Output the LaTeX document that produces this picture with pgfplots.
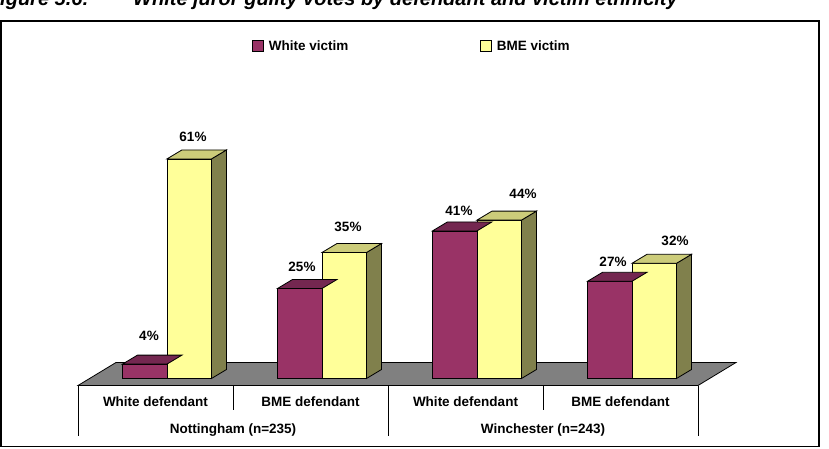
\documentclass[border=0pt]{standalone}
\usepackage{fontspec}
\setmainfont{Liberation Sans}
\usepackage{pgfplots}
\usepackage{pgfplotstable}
\pgfplotsset{compat=1.18}

\definecolor{plum}{HTML}{993366}
\definecolor{plumtop}{HTML}{742750}
\definecolor{cream}{HTML}{FFFF99}
\definecolor{creamtop}{HTML}{CCCC7A}
\definecolor{creamside}{HTML}{80804C}
\definecolor{floorgray}{HTML}{808080}

\newcommand{\chartfont}{\bfseries\fontsize{13.5}{16}\selectfont}

% Guilty-vote shares (%) per defendant group; wlx/wly and blx/bly place
% each value label (pt) relative to the top front edge of its bar group.
\pgfplotstableread{
pos white bme wlx wly  blx bly
0   4     61  -18 28.1 26  21.9
1   25    35  -20 21.5 26  25.5
2   41    44  -18 19.9 46  26.1
3   27    32  -19 19.3 43  22.3
}\votes

\begin{document}
\begin{tikzpicture}
\useasboundingbox (0,0) rectangle (829pt,448pt);
\clip (0,0) rectangle (829pt,448pt);

% caption line above the frame
\node[anchor=base west, inner sep=0pt, font=\bfseries\itshape\fontsize{20}{24}\selectfont]
  at (-12.2pt,442pt) {Figure 5.6:};
\node[anchor=base west, inner sep=0pt, font=\bfseries\itshape\fontsize{20}{24}\selectfont]
  at (133pt,442pt) {White juror guilty votes by defendant and victim ethnicity};

% chart frame
\draw[line width=1.5pt] (1pt,1.5pt) rectangle (819pt,427pt);

\begin{axis}[
  at={(12pt,69.5pt)}, anchor=south west,
  width=775pt, height=360pt, scale only axis,
  xmin=-1, xmax=4, ymin=0, ymax=100,
  clip=false,
  axis line style={draw=none},
  tick style={draw=none},
  ytick=\empty,
  xtick={0,1,2,3},
  xticklabels={White defendant,BME defendant,White defendant,BME defendant},
  xticklabel style={font=\chartfont, anchor=base, xshift=-11.5pt, yshift=-28.1pt},
  /pgf/number format/assume math mode=true,
  legend columns=2,
  legend style={draw=none, fill=none, at={(0.3097,0.9236)}, anchor=west,
    inner sep=0pt, font=\chartfont, nodes={inner sep=0pt},
    /tikz/every odd column/.append style={column sep=5pt},
    /tikz/every even column/.append style={column sep=132pt}},
]

% floor of the 3-D plot area
\fill[floorgray, draw=black, line width=0.8pt]
  ([shift={(-11.5pt,-7pt)}]axis cs:-0.5,0) --
  ([shift={(-11.5pt,-7pt)}]axis cs:3.5,0) --
  ([shift={(26.5pt,16pt)}]axis cs:3.5,0) --
  ([shift={(26.5pt,16pt)}]axis cs:-0.5,0) -- cycle;

% White victim: front faces
\addplot[ybar, bar width=44.5pt, bar shift=-22.25pt, fill=plum, draw=black, line width=0.8pt,
  legend image code/.code={\draw[fill=plum, draw=black, line width=0.6pt] (0pt,-5.5pt) rectangle (11pt,5.5pt);}]
  table[x=pos, y=white] {\votes};
\addlegendentry{White victim}

% White victim: top faces
\addplot[forget plot, only marks, scatter, mark=*, mark size=0pt,
  mark options={draw=none, fill=none},
  scatter/@pre marker code/.code={%
    \filldraw[fill=plumtop, draw=black, line width=0.8pt]
      (-44.5pt,0pt) -- (0pt,0pt) -- (15pt,9pt) -- (-29.5pt,9pt) -- cycle;},
  scatter/@post marker code/.code={}]
  table[x=pos, y=white] {\votes};

% BME victim: front faces
\addplot[ybar, bar width=44.5pt, bar shift=22.25pt, fill=cream, draw=black, line width=0.8pt,
  legend image code/.code={\draw[fill=cream, draw=black, line width=0.6pt] (0pt,-5.5pt) rectangle (11pt,5.5pt);}]
  table[x=pos, y=bme] {\votes};
\addlegendentry{BME victim}

% BME victim: top and side faces
\addplot[forget plot, only marks, scatter, mark=*, mark size=0pt,
  mark options={draw=none, fill=none},
  visualization depends on={\thisrow{bme} \as \barval},
  scatter/@pre marker code/.code={%
    \pgfmathsetmacro\sidelow{-3.6*\barval}%
    \pgfmathsetmacro\sidehigh{9-3.6*\barval}%
    \filldraw[fill=creamside, draw=black, line width=0.8pt]
      (44.5pt,0pt) -- (59.5pt,9pt) -- (59.5pt,\sidehigh pt) -- (44.5pt,\sidelow pt) -- cycle;
    \filldraw[fill=creamtop, draw=black, line width=0.8pt]
      (0pt,0pt) -- (44.5pt,0pt) -- (59.5pt,9pt) -- (15pt,9pt) -- cycle;},
  scatter/@post marker code/.code={}]
  table[x=pos, y=bme] {\votes};

% value labels
\addplot[forget plot, draw=none, point meta=y,
  visualization depends on={\thisrow{wlx} \as \lx},
  visualization depends on={\thisrow{wly} \as \ly},
  nodes near coords={\pgfmathprintnumber{\pgfplotspointmeta}\%},
  every node near coord/.append style={font=\chartfont, anchor=center, xshift=\lx, yshift=\ly}]
  table[x=pos, y=white] {\votes};
\addplot[forget plot, draw=none, point meta=y,
  visualization depends on={\thisrow{blx} \as \lx},
  visualization depends on={\thisrow{bly} \as \ly},
  nodes near coords={\pgfmathprintnumber{\pgfplotspointmeta}\%},
  every node near coord/.append style={font=\chartfont, anchor=center, xshift=\lx, yshift=\ly}]
  table[x=pos, y=bme] {\votes};

% category table below the floor
\pgfplotsinvokeforeach{-0.5,1.5,3.5}{
  \draw[line width=0.6pt] ([shift={(-11.5pt,-7pt)}]axis cs:#1,0) -- ++(0pt,-50.5pt);
}
\pgfplotsinvokeforeach{0.5,2.5}{
  \draw[line width=0.6pt] ([shift={(-11.5pt,-7pt)}]axis cs:#1,0) -- ++(0pt,-24.5pt);
}
\node[font=\chartfont, anchor=base] at ([shift={(-11.5pt,-55pt)}]axis cs:0.5,0) {Nottingham (n=235)};
\node[font=\chartfont, anchor=base] at ([shift={(-11.5pt,-55pt)}]axis cs:2.5,0) {Winchester (n=243)};
\end{axis}
\end{tikzpicture}
\end{document}
